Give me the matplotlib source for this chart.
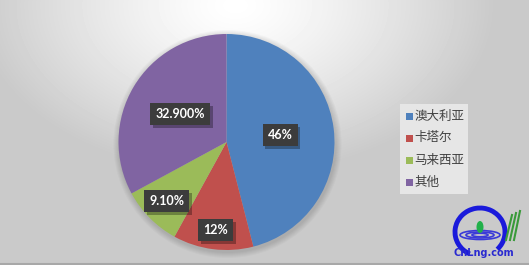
import matplotlib.pyplot as plt
import matplotlib.patheffects as pe
import numpy as np
from matplotlib.patches import Arc, Ellipse, Rectangle

# data
countries = ['澳大利亚', '卡塔尔', '马来西亚', '其他']
shares = [46, 12, 9.1, 32.9]
pct_labels = ['46%', '12%', '9.10%', '32.900%']
colors = ['#4f81bd', '#c0504d', '#9bbb59', '#8064a2']
label_dist = [0.50, 0.82, 0.78, 0.50]

W, H = 529, 265
fig = plt.figure(figsize=(W / 100, H / 100), dpi=100)
ax = fig.add_axes([0, 0, 1, 1])

# background: grey with a soft light glow at the top
yy, xx = np.mgrid[0:H, 0:W]
d = np.sqrt(((xx - 235) / 260.0) ** 2 + ((yy - 5) / 170.0) ** 2)
bg = 1.0 - 0.21 * np.clip(d, 0, 1) ** 1.3
ax.imshow(bg, cmap='gray', vmin=0, vmax=1, extent=[0, W, 0, H], origin='upper', zorder=0)
ax.plot([0, W], [1, 1], color='#a8a8a8', lw=1.5, zorder=1)

cx, cy, r = 226.5, H - 142, 108

# soft shadow under the pie
for i in range(6):
    ax.add_patch(plt.Circle((cx + 1, cy - 2), r + 6 - i, color='black', alpha=0.025, lw=0, zorder=1))

wedges, _ = ax.pie(shares, colors=colors, startangle=90, counterclock=False,
                   center=(cx, cy), radius=r, frame=True,
                   wedgeprops=dict(linewidth=0))
for w in wedges:
    w.set_zorder(2)

for w, lab, dist in zip(wedges, pct_labels, label_dist):
    ang = np.deg2rad((w.theta1 + w.theta2) / 2)
    tx = cx + dist * r * np.cos(ang)
    ty = cy + dist * r * np.sin(ang)
    t = ax.text(tx, ty, lab, ha='center', va='center', fontsize=9, fontweight='bold',
                family='Lato', color='white', zorder=4,
                bbox=dict(boxstyle='square,pad=0.4', fc='#3c3c3c', ec='none'))
    t.get_bbox_patch().set_path_effects([
        pe.SimplePatchShadow(offset=(2, -2), shadow_rgbFace='black', alpha=0.3), pe.Normal()])

# legend
ax.add_patch(Rectangle((400, H - 194), 68, 90, fc='#e6e6e6', ec='none', zorder=3))
for i, (name, c) in enumerate(zip(countries, colors)):
    ly = H - 116 - i * 22
    ax.add_patch(Rectangle((406, ly - 3.5), 7, 7, fc=c, ec='none', zorder=4))
    ax.text(414.5, ly, name, ha='left', va='center', fontsize=9,
            family=['Noto Sans CJK SC', 'DejaVu Sans'], color='#404040', zorder=4)

# site logo
lx, ly0 = 480, H - 232
ax.add_patch(Arc((lx, ly0), 50, 48, theta1=-45, theta2=245, lw=3.5, edgecolor='#1a1adb', zorder=4))
for ew, eh in [(40, 9), (28, 6), (16, 3.5)]:
    ax.add_patch(Ellipse((lx, ly0 - 3), ew, eh, fill=False, ec='#3a3ad8', lw=1.2, zorder=4))
ax.add_patch(Ellipse((lx, ly0 + 5), 7, 12, fc='#22b04a', ec='none', zorder=5))
ax.text(lx + 4, H - 253, 'CnLng.com', ha='center', va='center', fontsize=7,
        fontweight='bold', color='#2a2ad0', family='DejaVu Sans', zorder=5)
for k in range(3):
    ax.plot([506 + k * 4, 512 + k * 4], [H - 240, H - 215 + k * 2], color='#3a9a3a', lw=1.5, zorder=4)

ax.set_xlim(0, W)
ax.set_ylim(0, H)
ax.set_aspect('equal')
ax.axis('off')

fig.savefig('out.png', dpi=100)
